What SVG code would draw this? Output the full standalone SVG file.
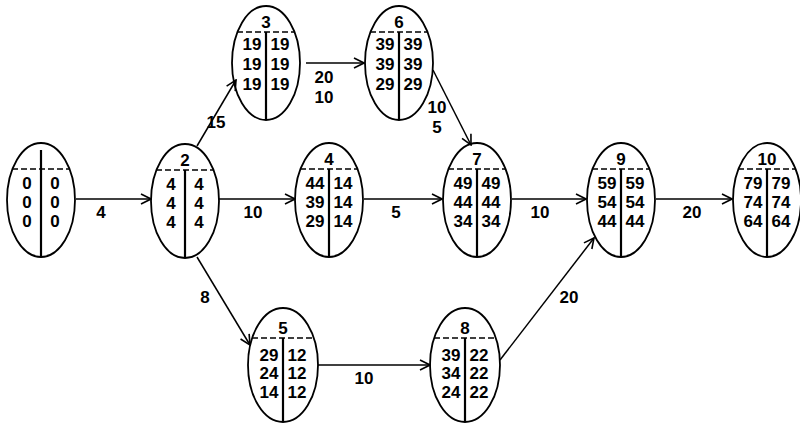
<svg xmlns="http://www.w3.org/2000/svg" width="800" height="427" viewBox="0 0 800 427">
<defs>
<style>
.o{fill:none;stroke:#000;stroke-width:1.8}
.d{stroke:#000;stroke-width:1.5;stroke-dasharray:6 3}
.v{stroke:#000;stroke-width:2.2}
.c{stroke:#000;stroke-width:1.5;fill:none}
text{font-family:"Liberation Sans",Arial,sans-serif;font-weight:bold;font-size:17px;fill:#000;text-anchor:middle}
</style>
<marker id="a" viewBox="0 0 12 12" refX="11" refY="6" markerWidth="12" markerHeight="12" markerUnits="userSpaceOnUse" orient="auto">
<path d="M1,1 L11,6 L1,11" fill="none" stroke="#000" stroke-width="1.6"/>
</marker>
<g id="shell">
<ellipse class="o" cx="0" cy="0" rx="34" ry="57"/>
<line class="d" x1="-29" y1="-31" x2="29" y2="-31"/>
<line class="v" x1="0" y1="-31" x2="0" y2="57"/>
</g>
<g id="shellb">
<ellipse class="o" cx="0" cy="0" rx="35" ry="57"/>
<line class="d" x1="-31" y1="-27" x2="31" y2="-27"/>
<line class="v" x1="0" y1="-27" x2="0" y2="57"/>
</g>
</defs>
<rect width="800" height="427" fill="#fff"/>
<g id="connectors">
<line class="c" x1="76" y1="199" x2="151" y2="199" marker-end="url(#a)"/>
<text x="101" y="218">4</text>
<line class="c" x1="197" y1="146" x2="236" y2="80" marker-end="url(#a)"/>
<text x="216" y="128">15</text>
<line class="c" x1="219" y1="199" x2="295" y2="199" marker-end="url(#a)"/>
<text x="253" y="218">10</text>
<line class="c" x1="197" y1="257" x2="250" y2="345" marker-end="url(#a)"/>
<text x="205" y="303">8</text>
<line class="c" x1="306" y1="63" x2="364" y2="63" marker-end="url(#a)"/>
<text x="324" y="83">20</text>
<text x="324" y="103">10</text>
<line class="c" x1="433" y1="70" x2="471" y2="145" marker-end="url(#a)"/>
<text x="437" y="113">10</text>
<text x="437" y="133">5</text>
<line class="c" x1="364" y1="199" x2="442" y2="199" marker-end="url(#a)"/>
<text x="396" y="218">5</text>
<line class="c" x1="512" y1="199" x2="586" y2="199" marker-end="url(#a)"/>
<text x="540" y="218">10</text>
<line class="c" x1="318" y1="365" x2="430" y2="365" marker-end="url(#a)"/>
<text x="364" y="384">10</text>
<line class="c" x1="500" y1="360" x2="594" y2="238" marker-end="url(#a)"/>
<text x="569" y="303">20</text>
<line class="c" x1="656" y1="199" x2="732" y2="199" marker-end="url(#a)"/>
<text x="692" y="218">20</text>
</g>
<g id="node1" transform="translate(41,200)">
<use href="#shell"/>
<line class="v" x1="0" y1="-50" x2="0" y2="-31"/>
<text x="-14" y="-11">0</text><text x="14" y="-11">0</text>
<text x="-14" y="8">0</text><text x="14" y="8">0</text>
<text x="-14" y="27">0</text><text x="14" y="27">0</text>
</g>
<g id="node2" transform="translate(185,201)">
<use href="#shell"/>
<text x="0" y="-35">2</text>
<text x="-14" y="-11">4</text><text x="14" y="-11">4</text>
<text x="-14" y="8">4</text><text x="14" y="8">4</text>
<text x="-14" y="27">4</text><text x="14" y="27">4</text>
</g>
<g id="node3" transform="translate(266,63)">
<use href="#shell"/>
<text x="0" y="-35">3</text>
<text x="-14" y="-13">19</text><text x="14" y="-13">19</text>
<text x="-14" y="7">19</text><text x="14" y="7">19</text>
<text x="-14" y="27">19</text><text x="14" y="27">19</text>
</g>
<g id="node4" transform="translate(329,200)">
<use href="#shell"/>
<text x="0" y="-35">4</text>
<text x="-14" y="-11">44</text><text x="14" y="-11">14</text>
<text x="-14" y="8">39</text><text x="14" y="8">14</text>
<text x="-14" y="27">29</text><text x="14" y="27">14</text>
</g>
<g id="node5" transform="translate(283,365)">
<use href="#shellb"/>
<text x="0" y="-31">5</text>
<text x="-14" y="-4">29</text><text x="14" y="-4">12</text>
<text x="-14" y="14">24</text><text x="14" y="14">12</text>
<text x="-14" y="33">14</text><text x="14" y="33">12</text>
</g>
<g id="node6" transform="translate(399,63)">
<use href="#shell"/>
<text x="0" y="-35">6</text>
<text x="-14" y="-13">39</text><text x="14" y="-13">39</text>
<text x="-14" y="7">39</text><text x="14" y="7">39</text>
<text x="-14" y="27">29</text><text x="14" y="27">29</text>
</g>
<g id="node7" transform="translate(477,200)">
<use href="#shell"/>
<text x="0" y="-35">7</text>
<text x="-14" y="-11">49</text><text x="14" y="-11">49</text>
<text x="-14" y="8">44</text><text x="14" y="8">44</text>
<text x="-14" y="27">34</text><text x="14" y="27">34</text>
</g>
<g id="node8" transform="translate(465,365)">
<use href="#shellb"/>
<text x="0" y="-31">8</text>
<text x="-14" y="-4">39</text><text x="14" y="-4">22</text>
<text x="-14" y="14">34</text><text x="14" y="14">22</text>
<text x="-14" y="33">24</text><text x="14" y="33">22</text>
</g>
<g id="node9" transform="translate(621,200)">
<use href="#shell"/>
<text x="0" y="-35">9</text>
<text x="-14" y="-11">59</text><text x="14" y="-11">59</text>
<text x="-14" y="8">54</text><text x="14" y="8">54</text>
<text x="-14" y="27">44</text><text x="14" y="27">44</text>
</g>
<g id="node10" transform="translate(767,200)">
<use href="#shell"/>
<text x="0" y="-35">10</text>
<text x="-14" y="-11">79</text><text x="14" y="-11">79</text>
<text x="-14" y="8">74</text><text x="14" y="8">74</text>
<text x="-14" y="27">64</text><text x="14" y="27">64</text>
</g>
</svg>
